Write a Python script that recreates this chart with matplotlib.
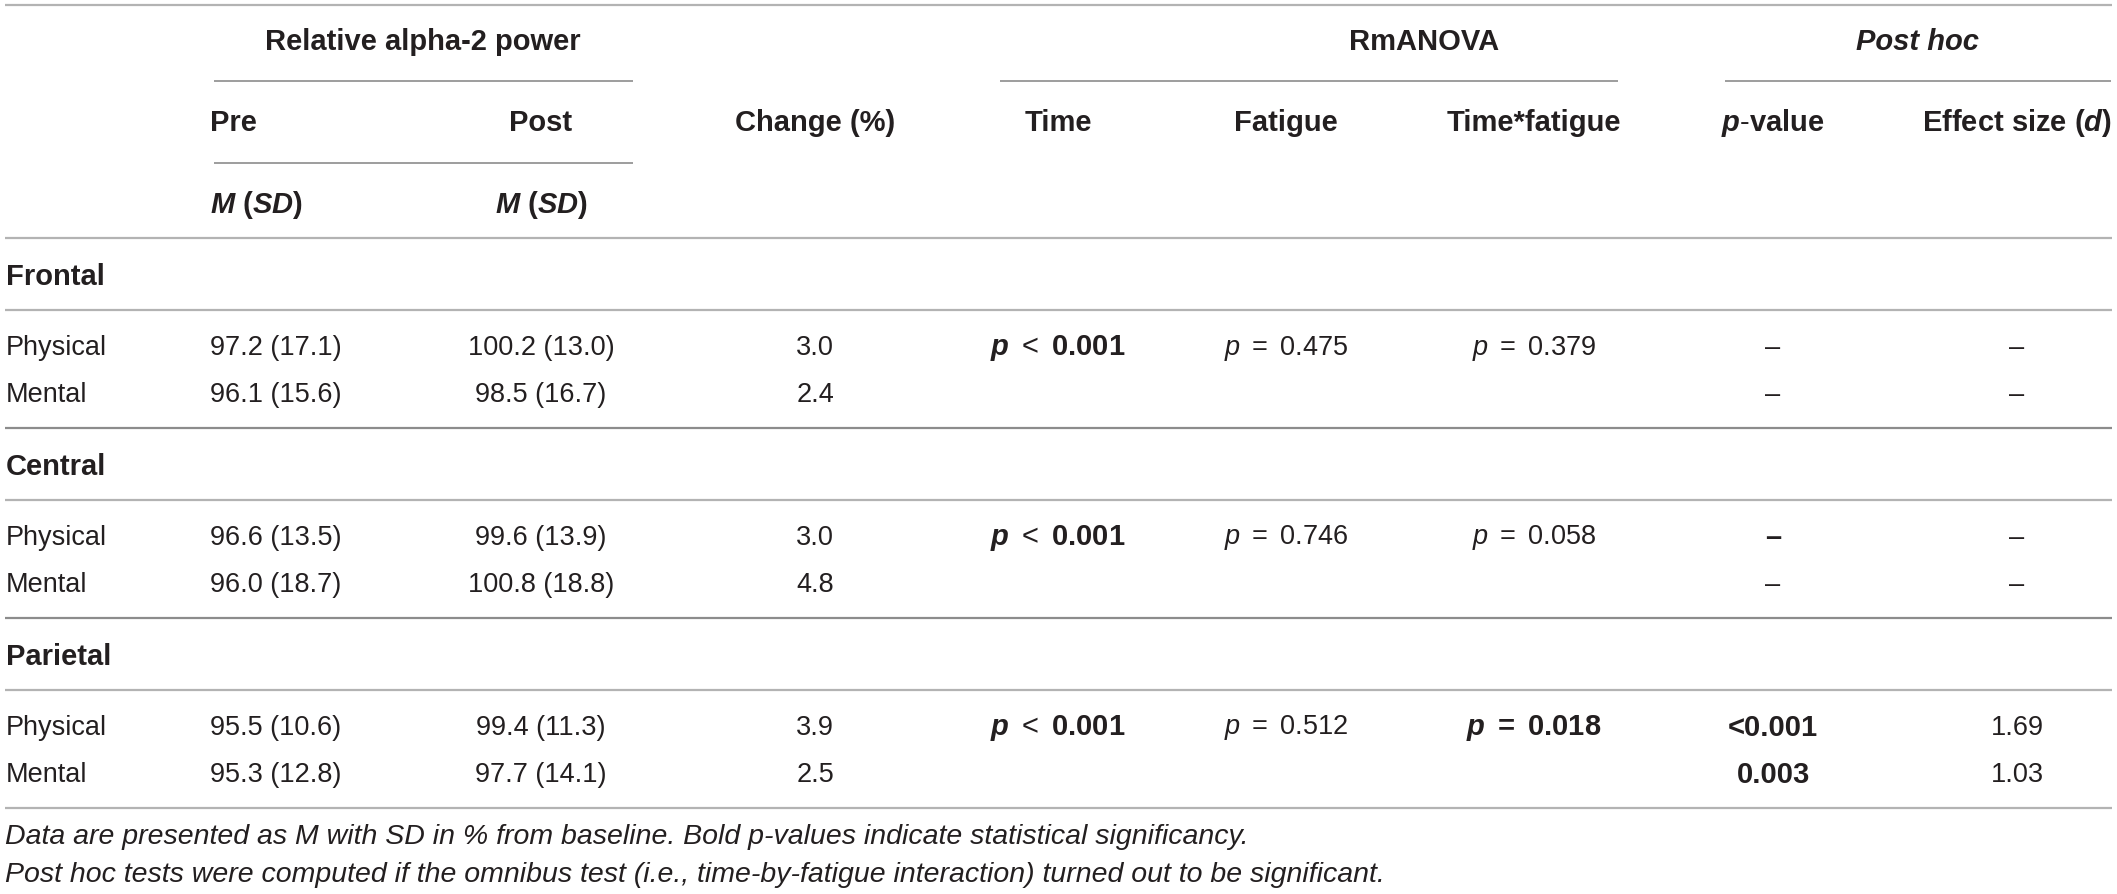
import matplotlib
matplotlib.use("Agg")
import matplotlib.pyplot as plt

plt.rcParams["font.family"] = ["Liberation Sans", "DejaVu Sans"]
plt.rcParams["mathtext.fontset"] = "custom"
plt.rcParams["mathtext.rm"] = "Liberation Sans"
plt.rcParams["mathtext.it"] = "Liberation Sans:italic"
plt.rcParams["mathtext.bf"] = "Liberation Sans:bold"
plt.rcParams["mathtext.bfit"] = "Liberation Sans:bold:italic"

# --- data ---
regions = ["Frontal", "Central", "Parietal"]
groups = ["Physical", "Mental"]
pre_vals = [["97.2 (17.1)", "96.1 (15.6)"],
            ["96.6 (13.5)", "96.0 (18.7)"],
            ["95.5 (10.6)", "95.3 (12.8)"]]
post_vals = [["100.2 (13.0)", "98.5 (16.7)"],
             ["99.6 (13.9)", "100.8 (18.8)"],
             ["99.4 (11.3)", "97.7 (14.1)"]]
change_vals = [["3.0", "2.4"], ["3.0", "4.8"], ["3.9", "2.5"]]
time_p = ["0.001", "0.001", "0.001"]
fatigue_p = ["0.475", "0.746", "0.512"]
inter_p = ["0.379", "0.058", "0.018"]
inter_sig = [False, False, True]
posthoc_p = [["–", "–"], ["–", "–"], ["<0.001", "0.003"]]
posthoc_bold = [[False, False], [True, False], [True, True]]
effect_d = [["–", "–"], ["–", "–"], ["1.69", "1.03"]]

footnotes = ["Data are presented as M with SD in % from baseline. Bold p-values indicate statistical significancy.",
             "Post hoc tests were computed if the omnibus test (i.e., time-by-fatigue interaction) turned out to be significant."]

# --- layout ---
W, H = 2117, 895
fig = plt.figure(figsize=(W / 100, H / 100), dpi=100)
ax = fig.add_axes([0, 0, 1, 1])
ax.set_xlim(0, W)
ax.set_ylim(H, 0)
ax.axis("off")

fs = 19.5      # regular body text
fs_b = 21      # bold headers
fs_n = 20.5    # italic footnotes
col_lab = 6
col_pre = 210
col_post = 541
col_chg = 815
col_time = 1058
col_fat = 1286
col_int = 1534
col_ph = 1773
col_d = 2017

light = "#b3b3b3"
dark = "#8c8c8c"
txt = "#231f20"

def hline(y, x0=5, x1=2112, c=light, lw=1.6):
    ax.plot([x0, x1], [y, y], color=c, lw=lw, solid_capstyle="butt")

def t(x, y, s, ha="center", size=fs, **kw):
    ax.text(x, y, s, ha=ha, va="center", fontsize=size, color=txt, **kw)

# header
hline(6)
t(423, 42, "Relative alpha-2 power", weight="bold", size=fs_b)
t(1424, 42, "RmANOVA", weight="bold", size=fs_b)
t(1918, 42, "Post hoc", weight="bold", style="italic", size=fs_b)
hline(82, 214, 633, c=dark, lw=1.2)
hline(82, 1000, 1618, c=dark, lw=1.2)
hline(82, 1725, 2111, c=dark, lw=1.2)

t(col_pre, 123, "Pre", ha="left", weight="bold", size=fs_b)
t(col_post, 123, "Post", weight="bold", size=fs_b)
t(col_chg, 123, "Change (%)", weight="bold", size=fs_b)
t(col_time, 123, "Time", weight="bold", size=fs_b)
t(col_fat, 123, "Fatigue", weight="bold", size=fs_b)
t(col_int, 123, "Time*fatigue", weight="bold", size=fs_b)
t(col_ph, 123, r"$\mathbfit{p}\mathbf{\text{-}value}$", size=fs_b)
t(col_d, 123, r"$\mathbf{Effect\ size\ (}\mathbfit{d}\mathbf{)}$", size=fs_b)
hline(164, 214, 633, c=dark, lw=1.2)

msd = r"$\mathbfit{M}\ \mathbf{(}\mathbfit{SD}\mathbf{)}$"
t(col_pre, 205, msd, ha="left", size=fs_b)
t(col_post, 205, msd, size=fs_b)
hline(239)

# body
sec_top = [239, 429, 619]
for r in range(len(regions)):
    y0 = sec_top[r]
    t(col_lab, y0 + 38, regions[r], ha="left", weight="bold", size=fs_b)
    hline(y0 + 72)
    for g in range(len(groups)):
        y = y0 + 109 + g * 47
        t(col_lab, y, groups[g], ha="left")
        t(col_pre, y, pre_vals[r][g], ha="left")
        t(col_post, y, post_vals[r][g])
        t(col_chg, y, change_vals[r][g])
        if posthoc_bold[r][g]:
            t(col_ph, y, posthoc_p[r][g], weight="bold", size=fs_b)
        else:
            t(col_ph, y, posthoc_p[r][g])
        t(col_d, y, effect_d[r][g])
    y = y0 + 109
    t(col_time, y, r"$\mathbfit{p}\ <\ \mathbf{" + time_p[r] + "}$", size=fs_b)
    t(col_fat, y, r"$\mathit{p}\ =\ \mathrm{" + fatigue_p[r] + "}$")
    if inter_sig[r]:
        t(col_int, y, r"$\mathbfit{p}\ \mathbf{=}\ \mathbf{" + inter_p[r] + "}$", size=fs_b)
    else:
        t(col_int, y, r"$\mathit{p}\ =\ \mathrm{" + inter_p[r] + "}$")
    if r < len(regions) - 1:
        hline(y0 + 190, c=dark)
    else:
        hline(y0 + 190)

t(5, 837, footnotes[0], ha="left", style="italic", size=fs_n)
t(5, 875, footnotes[1], ha="left", style="italic", size=fs_n)

fig.savefig("out.png", dpi=100)
